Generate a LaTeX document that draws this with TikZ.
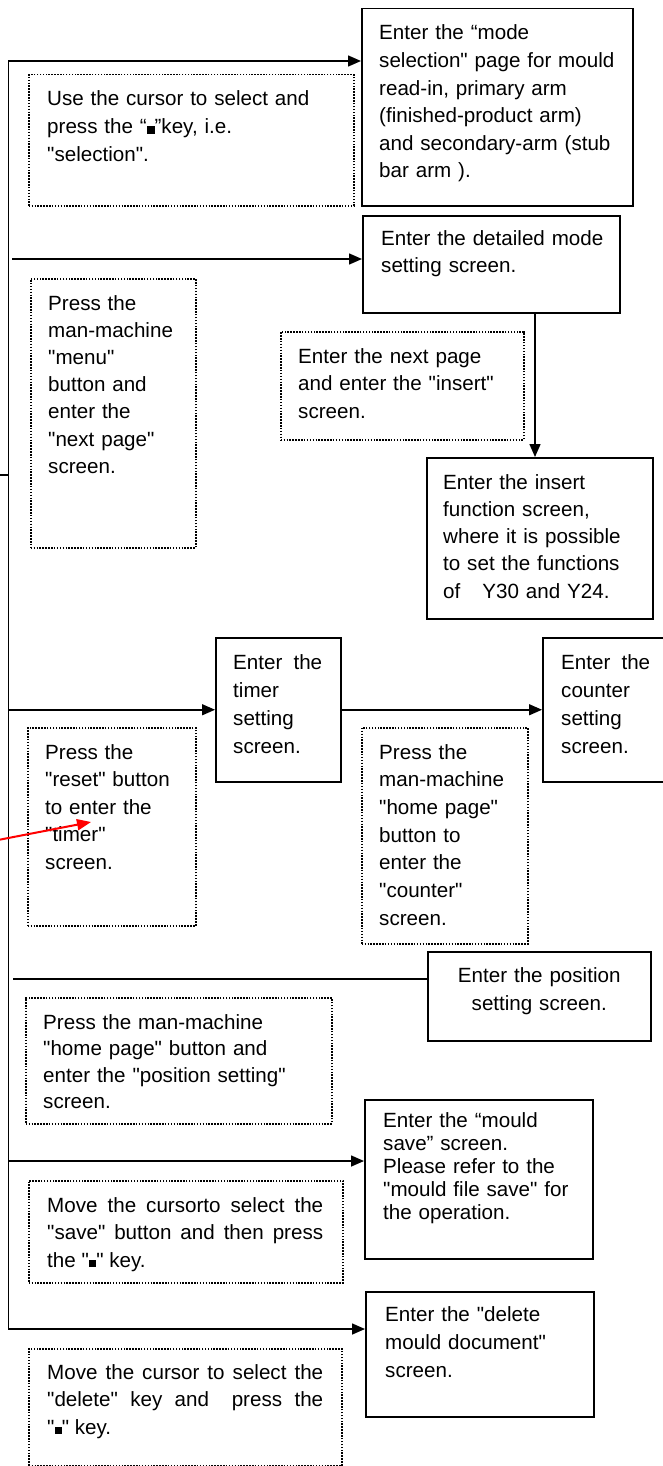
\documentclass[tikz,border=0pt]{standalone}
\usepackage{fontspec}
\setmainfont{Liberation Sans}[Ligatures=TeXOff]
\usetikzlibrary{arrows.meta}
% small black key symbol used in the texts
\newcommand\keysq[1][0.38em]{\rule{#1}{#1}}
% loose justification for the stretched lines
\newcommand\loosejust{\tolerance=9999\relax\hbadness=10000\relax}
\tikzset{
  boxsize/.style 2 args={minimum width=#1pt, minimum height=#2pt},
  solidbox/.style={draw, line width=1.5pt, inner sep=0pt, anchor=north west},
  dotbox/.style={draw, line width=1.5pt, dash pattern=on 1.5pt off 1.4pt, inner sep=0pt, anchor=north west},
  boxtext/.style={inner sep=0pt, anchor=base west, align=left, text width=#1pt,
    font=\fontsize{20.6}{27.6}\selectfont},
  justtext/.style={boxtext=#1, align=justify},
  link/.style={line width=1.5pt},
  arr/.style={link, -{Triangle[length=13pt,width=11pt]}},
  redarr/.style={line width=2pt, draw=red, -{Triangle[length=14pt,width=11pt]}},
}
\begin{document}
\begin{tikzpicture}[x=1pt, y=-1pt]
\fill[white] (0,0) rectangle (663,1466);
\useasboundingbox (0,0) rectangle (663,1466);

% ---------- screens (solid boxes) ----------
\node[solidbox, boxsize={271}{197}] (mode)    at (361,8)    {};
\node[solidbox, boxsize={257}{97}]  (detail)  at (362,215)  {};
\node[solidbox, boxsize={226}{161}] (insert)  at (426,457)  {};
\node[solidbox, boxsize={125}{144}] (timer)   at (215,637)  {};
\node[solidbox, boxsize={125}{144}] (counter) at (542,637)  {};
\node[solidbox, boxsize={223}{89}]  (pos)     at (427,951)  {};
\node[solidbox, boxsize={228}{159}] (save)    at (364,1099) {};
\node[solidbox, boxsize={228}{125}] (del)     at (365,1291) {};

% ---------- operations (dotted boxes) ----------
\node[dotbox, boxsize={325}{131}] (selnote)   at (28,74)    {};
\node[dotbox, boxsize={243}{108}] (nextnote)  at (280,331)  {};
\node[dotbox, boxsize={165}{269}] (menunote)  at (30,278)   {};
\node[dotbox, boxsize={168}{198}] (resetnote) at (27,727)   {};
\node[dotbox, boxsize={166}{216}] (homenote)  at (361,727)  {};
\node[dotbox, boxsize={306}{126}] (posnote)   at (25,997)   {};
\node[dotbox, boxsize={314}{102}] (savenote)  at (28,1180)  {};
\node[dotbox, boxsize={313}{117}] (delnote)   at (28,1348)  {};

% ---------- texts of the screens ----------
\node[boxtext=240] (modeT) at ([shift={(18,32)}]mode.north west)
  {Enter the “mode\\ selection" page for mould\\ read-in, primary arm\\
   (finished-product arm)\\ and secondary-arm (stub\\ bar arm ).};
\node[boxtext=235] (detailT) at ([shift={(19,30)}]detail.north west)
  {Enter the detailed mode\\ setting screen.};
\node[boxtext=205, font=\fontsize{20.6}{27.3}\selectfont] (insertT) at ([shift={(17,32)}]insert.north west)
  {Enter the insert\\ function screen,\\ where it is possible\\ to set the functions\\
   of\hspace{1.07em}Y30 and Y24.};
\node[boxtext=105, font=\fontsize{20.6}{28}\selectfont] (timerT) at ([shift={(18,32)}]timer.north west)
  {Enter\hspace{0.54em}the\\ timer\\ setting\\ screen.};
\node[boxtext=100, font=\fontsize{20.6}{28}\selectfont] (counterT) at ([shift={(19,32)}]counter.north west)
  {Enter\hspace{0.54em}the\\ counter\\ setting\\ screen.};
\node[boxtext=210, align=center, anchor=base, font=\fontsize{20.6}{28}\selectfont] (posT)
  at ([yshift=-31pt]pos.north)
  {Enter the position\\ setting screen.};
\node[boxtext=205, font=\fontsize{20.6}{23.1}\selectfont] (saveT) at ([shift={(19,28)}]save.north west)
  {Enter the “mould\\ save” screen.\\ Please refer to the\\ "mould file save" for\\ the operation.};
\node[boxtext=205, font=\fontsize{20.6}{28}\selectfont] (delT) at ([shift={(20,30)}]del.north west)
  {Enter the "delete\\ mould document"\\ screen.};

% ---------- texts of the operations ----------
\node[boxtext=300] (selT) at ([shift={(19,32)}]selnote.north west)
  {Use the cursor to select and\\ press the “\keysq”key, i.e.\\ "selection".};
\node[boxtext=222] (nextT) at ([shift={(18,32)}]nextnote.north west)
  {Enter the next page\\ and enter the "insert"\\ screen.};
\node[boxtext=145, font=\fontsize{20.6}{27.2}\selectfont] (menuT) at ([shift={(18,32)}]menunote.north west)
  {Press the\\ man-machine\\ "menu"\\ button and\\ enter the\\ "next page"\\ screen.};
\node[boxtext=148, font=\fontsize{20.6}{27.5}\selectfont] (resetT) at ([shift={(18,32)}]resetnote.north west)
  {Press the\\ "reset" button\\ to enter the\\ "timer"\\ screen.};
\node[boxtext=146, font=\fontsize{20.6}{27.7}\selectfont] (homeT) at ([shift={(18,32)}]homenote.north west)
  {Press the\\ man-machine\\ "home page"\\ button to\\ enter the\\ "counter"\\ screen.};
\node[boxtext=285, font=\fontsize{20.6}{26.5}\selectfont] (posnoteT) at ([shift={(18,32)}]posnote.north west)
  {Press the man-machine\\ "home page" button and\\ enter the "position setting"\\ screen.};
\node[justtext=276] (savenoteT) at ([shift={(19,32)}]savenote.north west)
  {\loosejust Move the cursorto select the\linebreak "save" button and then press\linebreak
   the "\keysq[0.36em]" key.};
\node[justtext=276] (delnoteT) at ([shift={(19,31)}]delnote.north west)
  {\loosejust Move the cursor to select the\linebreak "delete" key and\hspace{0.5em} press the\linebreak
   "\keysq[0.36em]" key.};

% ---------- connectors ----------
\coordinate (top) at (8.5,61);
\coordinate (bot) at (8.5,1329);
% main trunk, from the first screen to the last one
\draw[link, {Triangle[length=13pt,width=11pt]}-{Triangle[length=13pt,width=11pt]}]
  (top -| mode.west) -- (top) -- (bot) -- (bot -| del.west);
\coordinate (a2) at (12,259);
\draw[arr] (a2) -- (a2 -| detail.west);
\coordinate (stub) at (0,475);
\draw[link] (stub) -- (stub -| top);
\draw[arr] (timer.west -| top) -- (timer.west);
\draw[arr] (timer.east) -- (counter.west);
\coordinate (vx) at (535,0);
\draw[arr] (detail.south -| vx) -- (insert.north -| vx);
\coordinate (a6) at (13,979);
\draw[link] (a6) -- (a6 -| pos.west);
\coordinate (a7) at (8.5,1161);
\draw[arr] (a7) -- (a7 -| save.west);

% red pointer
\coordinate (r0) at (-2,840);
\coordinate (r1) at (91,822);
\draw[redarr] (r0) -- (r1);
\end{tikzpicture}
\end{document}
